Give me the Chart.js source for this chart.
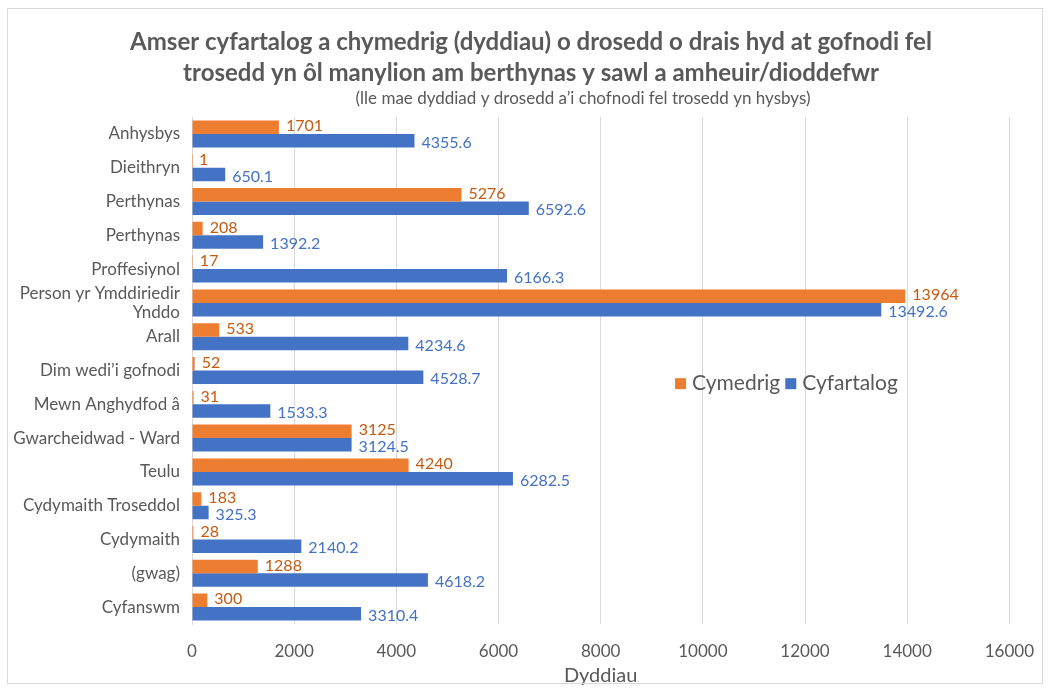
<!DOCTYPE html>
<html>
<head>
<meta charset="utf-8">
<script src="https://cdn.jsdelivr.net/npm/chart.js@4.4.1/dist/chart.umd.min.js"></script>
<style>
  html, body { margin: 0; padding: 0; background: #fff; }
  #wrap { position: relative; width: 1051px; height: 690px; }
  #frame { position: absolute; left: 7px; top: 8px; width: 1036px; height: 676px; border: 1px solid #d9d9d9; box-sizing: border-box; pointer-events: none; }
</style>
</head>
<body>
<div id="wrap">
  <canvas id="chart" width="1051" height="690"></canvas>
  <div id="frame"></div>
</div>
<script>
// categories, top to bottom
var categories = [
  'Anhysbys', 'Dieithryn', 'Perthynas', 'Perthynas', 'Proffesiynol',
  ['Person yr Ymddiriedir', 'Ynddo'], 'Arall', 'Dim wedi\u2019i gofnodi',
  'Mewn Anghydfod \u00e2', 'Gwarcheidwad - Ward', 'Teulu',
  'Cydymaith Troseddol', 'Cydymaith', '(gwag)', 'Cyfanswm'
];
// median (orange)
var cymedrig = [1701, 1, 5276, 208, 17, 13964, 533, 52, 31, 3125, 4240, 183, 28, 1288, 300];
// mean (blue)
var cyfartalog = [4355.6, 650.1, 6592.6, 1392.2, 6166.3, 13492.6, 4234.6, 4528.7, 1533.3, 3124.5, 6282.5, 325.3, 2140.2, 4618.2, 3310.4];

var seriesNames = ['Cymedrig', 'Cyfartalog'];
var titleLines = [
  'Amser cyfartalog a chymedrig (dyddiau) o drosedd o drais hyd at gofnodi fel',
  'trosedd yn \u00f4l manylion am berthynas y sawl a amheuir/dioddefwr'
];
var subtitleText = '(lle mae dyddiad y drosedd a\u2019i chofnodi fel trosedd yn hysbys)';
var xTitle = 'Dyddiau';

var FONT = 'Lato, "Open Sans", sans-serif';
var colors = {
  orange: '#ED7D31',
  orangeText: '#C55A11',
  blue: '#4472C4',
  text: '#595959',
  grid: '#D9D9D9'
};

// value labels at the end of each bar
var valueLabels = {
  id: 'valueLabels',
  afterDatasetsDraw: function(chart) {
    var ctx = chart.ctx;
    ctx.save();
    ctx.font = '16px ' + FONT;
    ctx.textBaseline = 'middle';
    ctx.textAlign = 'left';
    chart.data.datasets.forEach(function(ds, di) {
      var meta = chart.getDatasetMeta(di);
      ctx.fillStyle = di === 0 ? colors.orangeText : colors.blue;
      meta.data.forEach(function(el, i) {
        ctx.fillText(String(ds.data[i]), el.x + 7, el.y + (di === 0 ? -1 : 2));
      });
    });
    ctx.restore();
  }
};

// title block: the original centres it on the frame, not on the plot,
// and nudges the subtitle to the right, so it is drawn by hand
var titleBlock = {
  id: 'titleBlock',
  afterDraw: function(chart) {
    var ctx = chart.ctx;
    ctx.save();
    ctx.fillStyle = colors.text;
    ctx.textAlign = 'center';
    ctx.textBaseline = 'middle';
    ctx.font = 'bold 24px ' + FONT;
    ctx.fillText(titleLines[0], 531, 42);
    ctx.fillText(titleLines[1], 531, 73);
    ctx.font = '17px ' + FONT;
    ctx.fillText(subtitleText, 583, 99);
    ctx.restore();
  }
};

// legend drawn inside the plot area, like the original
var innerLegend = {
  id: 'innerLegend',
  afterDraw: function(chart) {
    var ctx = chart.ctx, a = chart.chartArea;
    var x = a.left + (a.right - a.left) * 0.591;
    var y = a.top + (a.bottom - a.top) * 0.525;
    ctx.save();
    ctx.font = '21px ' + FONT;
    ctx.textBaseline = 'middle';
    ctx.textAlign = 'left';
    var fills = [colors.orange, colors.blue];
    seriesNames.forEach(function(name, i) {
      ctx.fillStyle = fills[i];
      ctx.fillRect(x, y - 5, 11, 11);
      ctx.fillStyle = colors.text;
      ctx.fillText(name, x + 17, y);
      x += 17 + ctx.measureText(name).width + 5;
    });
    ctx.restore();
  }
};

new Chart(document.getElementById('chart'), {
  type: 'bar',
  data: {
    labels: categories,
    datasets: [
      { label: seriesNames[0], data: cymedrig, backgroundColor: colors.orange },
      { label: seriesNames[1], data: cyfartalog, backgroundColor: colors.blue }
    ]
  },
  options: {
    indexAxis: 'y',
    responsive: false,
    animation: false,
    layout: { padding: { left: 8, right: 40, top: 117, bottom: 2 } },
    datasets: { bar: { categoryPercentage: 0.8, barPercentage: 1.0 } },
    plugins: {
      legend: { display: false },
      tooltip: { enabled: false },
      title: { display: false },
      subtitle: { display: false }
    },
    scales: {
      x: {
        min: 0,
        max: 16000,
        ticks: {
          stepSize: 2000,
          color: colors.text,
          font: { family: FONT, size: 17 },
          padding: 17,
          callback: function(v) { return String(v); }
        },
        grid: { color: colors.grid, drawTicks: false },
        border: { display: false },
        title: { display: true, text: xTitle, color: colors.text, font: { family: FONT, size: 20 }, padding: { top: 2, bottom: 0 } },
        afterFit: function(scale) { scale.height = 64; }
      },
      y: {
        ticks: { autoSkip: false, color: colors.text, font: { family: FONT, size: 17, lineHeight: 1.1 }, padding: 12 },
        grid: { display: false, drawTicks: false },
        border: { display: true, color: colors.grid },
        afterFit: function(scale) { scale.width = 184; }
      }
    }
  },
  plugins: [valueLabels, titleBlock, innerLegend]
});
</script>
</body>
</html>
